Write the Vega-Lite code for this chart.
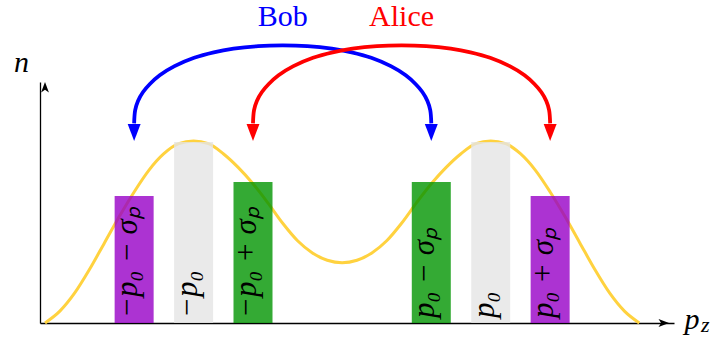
{
  "$schema": "https://vega.github.io/schema/vega-lite/v6.json",
  "width": 634,
  "height": 241,
  "padding": {"left": 40, "top": 82, "right": 42, "bottom": 17},
  "autosize": {"type": "none"},
  "background": "white",
  "config": {"view": {"stroke": null}},
  "datasets": {
    "curve": [
      {"p": -2.0, "n": 0.0}, {"p": -1.9, "n": 0.065}, {"p": -1.8, "n": 0.165}, {"p": -1.7, "n": 0.295},
      {"p": -1.6, "n": 0.44}, {"p": -1.5, "n": 0.585}, {"p": -1.4, "n": 0.72}, {"p": -1.3, "n": 0.84},
      {"p": -1.2, "n": 0.93}, {"p": -1.1, "n": 0.985}, {"p": -1.0, "n": 1.0}, {"p": -0.9, "n": 0.985},
      {"p": -0.8, "n": 0.93}, {"p": -0.7, "n": 0.855}, {"p": -0.6, "n": 0.765}, {"p": -0.5, "n": 0.66},
      {"p": -0.4, "n": 0.548}, {"p": -0.3, "n": 0.452}, {"p": -0.2, "n": 0.385}, {"p": -0.1, "n": 0.345},
      {"p": 0.0, "n": 0.331},
      {"p": 0.1, "n": 0.345}, {"p": 0.2, "n": 0.385}, {"p": 0.3, "n": 0.452}, {"p": 0.4, "n": 0.548},
      {"p": 0.5, "n": 0.66}, {"p": 0.6, "n": 0.765}, {"p": 0.7, "n": 0.855}, {"p": 0.8, "n": 0.93},
      {"p": 0.9, "n": 0.985}, {"p": 1.0, "n": 1.0}, {"p": 1.1, "n": 0.985}, {"p": 1.2, "n": 0.93},
      {"p": 1.3, "n": 0.84}, {"p": 1.4, "n": 0.72}, {"p": 1.5, "n": 0.585}, {"p": 1.6, "n": 0.44},
      {"p": 1.7, "n": 0.295}, {"p": 1.8, "n": 0.165}, {"p": 1.9, "n": 0.065}, {"p": 2.0, "n": 0.0}
    ],
    "bars": [
      {"p": -1.4, "n": 0.698, "label": "−p₀ − σₚ", "kind": "outer"},
      {"p": -1.0, "n": 0.995, "label": "−p₀", "kind": "center"},
      {"p": -0.6, "n": 0.775, "label": "−p₀ + σₚ", "kind": "inner"},
      {"p": 0.6, "n": 0.775, "label": "p₀ − σₚ", "kind": "inner"},
      {"p": 1.0, "n": 0.995, "label": "p₀", "kind": "center"},
      {"p": 1.4, "n": 0.698, "label": "p₀ + σₚ", "kind": "outer"}
    ],
    "arcs": [
      {"who": "Bob", "p": -1.4, "n": 1.097}, {"who": "Bob", "p": -1.393, "n": 1.17}, {"who": "Bob", "p": -1.374, "n": 1.22},
      {"who": "Bob", "p": -1.34, "n": 1.269}, {"who": "Bob", "p": -1.294, "n": 1.313}, {"who": "Bob", "p": -1.228, "n": 1.361},
      {"who": "Bob", "p": -1.128, "n": 1.411}, {"who": "Bob", "p": -0.996, "n": 1.457}, {"who": "Bob", "p": -0.864, "n": 1.487},
      {"who": "Bob", "p": -0.731, "n": 1.507}, {"who": "Bob", "p": -0.566, "n": 1.521}, {"who": "Bob", "p": -0.4, "n": 1.525},
      {"who": "Bob", "p": -0.234, "n": 1.521}, {"who": "Bob", "p": -0.069, "n": 1.507}, {"who": "Bob", "p": 0.064, "n": 1.487},
      {"who": "Bob", "p": 0.196, "n": 1.457}, {"who": "Bob", "p": 0.328, "n": 1.411}, {"who": "Bob", "p": 0.428, "n": 1.361},
      {"who": "Bob", "p": 0.494, "n": 1.313}, {"who": "Bob", "p": 0.54, "n": 1.269}, {"who": "Bob", "p": 0.574, "n": 1.22},
      {"who": "Bob", "p": 0.593, "n": 1.17}, {"who": "Bob", "p": 0.6, "n": 1.097},
      {"who": "Alice", "p": -0.6, "n": 1.097}, {"who": "Alice", "p": -0.593, "n": 1.17}, {"who": "Alice", "p": -0.574, "n": 1.22},
      {"who": "Alice", "p": -0.54, "n": 1.269}, {"who": "Alice", "p": -0.494, "n": 1.313}, {"who": "Alice", "p": -0.428, "n": 1.361},
      {"who": "Alice", "p": -0.328, "n": 1.411}, {"who": "Alice", "p": -0.196, "n": 1.457}, {"who": "Alice", "p": -0.064, "n": 1.487},
      {"who": "Alice", "p": 0.069, "n": 1.507}, {"who": "Alice", "p": 0.234, "n": 1.521}, {"who": "Alice", "p": 0.4, "n": 1.525},
      {"who": "Alice", "p": 0.566, "n": 1.521}, {"who": "Alice", "p": 0.731, "n": 1.507}, {"who": "Alice", "p": 0.864, "n": 1.487},
      {"who": "Alice", "p": 0.996, "n": 1.457}, {"who": "Alice", "p": 1.128, "n": 1.411}, {"who": "Alice", "p": 1.228, "n": 1.361},
      {"who": "Alice", "p": 1.294, "n": 1.313}, {"who": "Alice", "p": 1.34, "n": 1.269}, {"who": "Alice", "p": 1.374, "n": 1.22},
      {"who": "Alice", "p": 1.393, "n": 1.17}, {"who": "Alice", "p": 1.4, "n": 1.097}
    ],
    "tips": [
      {"who": "Bob", "p": -1.4, "n": 1.0}, {"who": "Bob", "p": 0.6, "n": 1.0},
      {"who": "Alice", "p": -0.6, "n": 1.0}, {"who": "Alice", "p": 1.4, "n": 1.0}
    ],
    "people": [
      {"who": "Bob", "p": -0.4, "n": 1.632},
      {"who": "Alice", "p": 0.4, "n": 1.632}
    ]
  },
  "encoding": {
    "x": {
      "field": "p", "type": "quantitative",
      "scale": {"domain": [-2, 2.2], "nice": false, "zero": false},
      "axis": {
        "orient": "bottom", "domain": true, "domainColor": "#000000", "domainWidth": 1.3,
        "ticks": false, "labels": false, "grid": false,
        "title": "p", "titleFont": "Liberation Serif", "titleFontStyle": "italic", "titleFontSize": 30,
        "titleFontWeight": "normal", "titleColor": "#000000",
        "titleX": 644, "titleY": 5, "titleAlign": "left", "titleBaseline": "alphabetic"
      }
    },
    "y": {
      "field": "n", "type": "quantitative",
      "scale": {"domain": [0, 1.324], "nice": false, "zero": false},
      "axis": {
        "orient": "left", "domain": true, "domainColor": "#000000", "domainWidth": 1.3,
        "ticks": false, "labels": false, "grid": false,
        "title": "n", "titleFont": "Liberation Serif", "titleFontStyle": "italic", "titleFontSize": 30,
        "titleFontWeight": "normal", "titleColor": "#000000", "titleAngle": 0,
        "titleX": -19, "titleY": -11, "titleAlign": "center", "titleBaseline": "alphabetic"
      }
    }
  },
  "layer": [
    {
      "data": {"name": "curve"},
      "mark": {"type": "line", "interpolate": "monotone", "color": "#FFD23F", "strokeWidth": 3}
    },
    {
      "data": {"name": "bars"},
      "mark": {"type": "bar", "size": 39, "orient": "vertical", "opacity": 0.8},
      "encoding": {
        "y2": {"datum": 0},
        "color": {
          "field": "kind", "type": "nominal", "legend": null,
          "scale": {"domain": ["outer", "center", "inner"], "range": ["#9700C7", "#E5E5E5", "#019501"]}
        }
      }
    },
    {
      "data": {"name": "bars"},
      "mark": {
        "type": "text", "angle": 270, "align": "left", "baseline": "alphabetic",
        "dx": 5, "dy": 3, "font": "Liberation Serif", "fontStyle": "italic", "fontSize": 31, "color": "#000000"
      },
      "encoding": {
        "y": {"datum": 0},
        "text": {"field": "label"}
      }
    },
    {
      "data": {"name": "arcs"},
      "mark": {"type": "line", "interpolate": "catmull-rom", "strokeWidth": 3.8, "strokeCap": "butt"},
      "encoding": {
        "color": {
          "field": "who", "type": "nominal", "legend": null,
          "scale": {"domain": ["Bob", "Alice"], "range": ["#0000FF", "#FF0000"]}
        }
      }
    },
    {
      "data": {"name": "tips"},
      "mark": {"type": "point", "shape": "M0,0 L-0.76,-2 L0.76,-2 Z", "size": 289, "filled": true, "opacity": 1, "strokeWidth": 0},
      "encoding": {
        "color": {
          "field": "who", "type": "nominal", "legend": null,
          "scale": {"domain": ["Bob", "Alice"], "range": ["#0000FF", "#FF0000"]}
        }
      }
    },
    {
      "data": {"name": "people"},
      "mark": {"type": "text", "align": "center", "baseline": "alphabetic", "font": "Liberation Serif", "fontSize": 30},
      "encoding": {
        "text": {"field": "who"},
        "color": {
          "field": "who", "type": "nominal", "legend": null,
          "scale": {"domain": ["Bob", "Alice"], "range": ["#0000FF", "#FF0000"]}
        }
      }
    },
    {
      "data": {"values": [{"p": 2.2, "n": 0}]},
      "mark": {"type": "point", "shape": "M0,0 L-2,-0.75 L-1.5,0 L-2,0.75 Z", "size": 110, "filled": true, "opacity": 1, "color": "#000000", "strokeWidth": 0}
    },
    {
      "data": {"values": [{"p": -2, "n": 1.324}]},
      "mark": {"type": "point", "shape": "M0,0 L0.75,2 L0,1.5 L-0.75,2 Z", "size": 110, "filled": true, "opacity": 1, "color": "#000000", "strokeWidth": 0}
    },
    {
      "data": {"values": [{"p": 2.415, "n": -0.05, "t": "z"}]},
      "mark": {"type": "text", "align": "left", "baseline": "alphabetic", "font": "Liberation Serif", "fontStyle": "italic", "fontSize": 22, "color": "#000000"},
      "encoding": {"text": {"field": "t"}}
    }
  ],
  "resolve": {"scale": {"color": "independent"}}
}
